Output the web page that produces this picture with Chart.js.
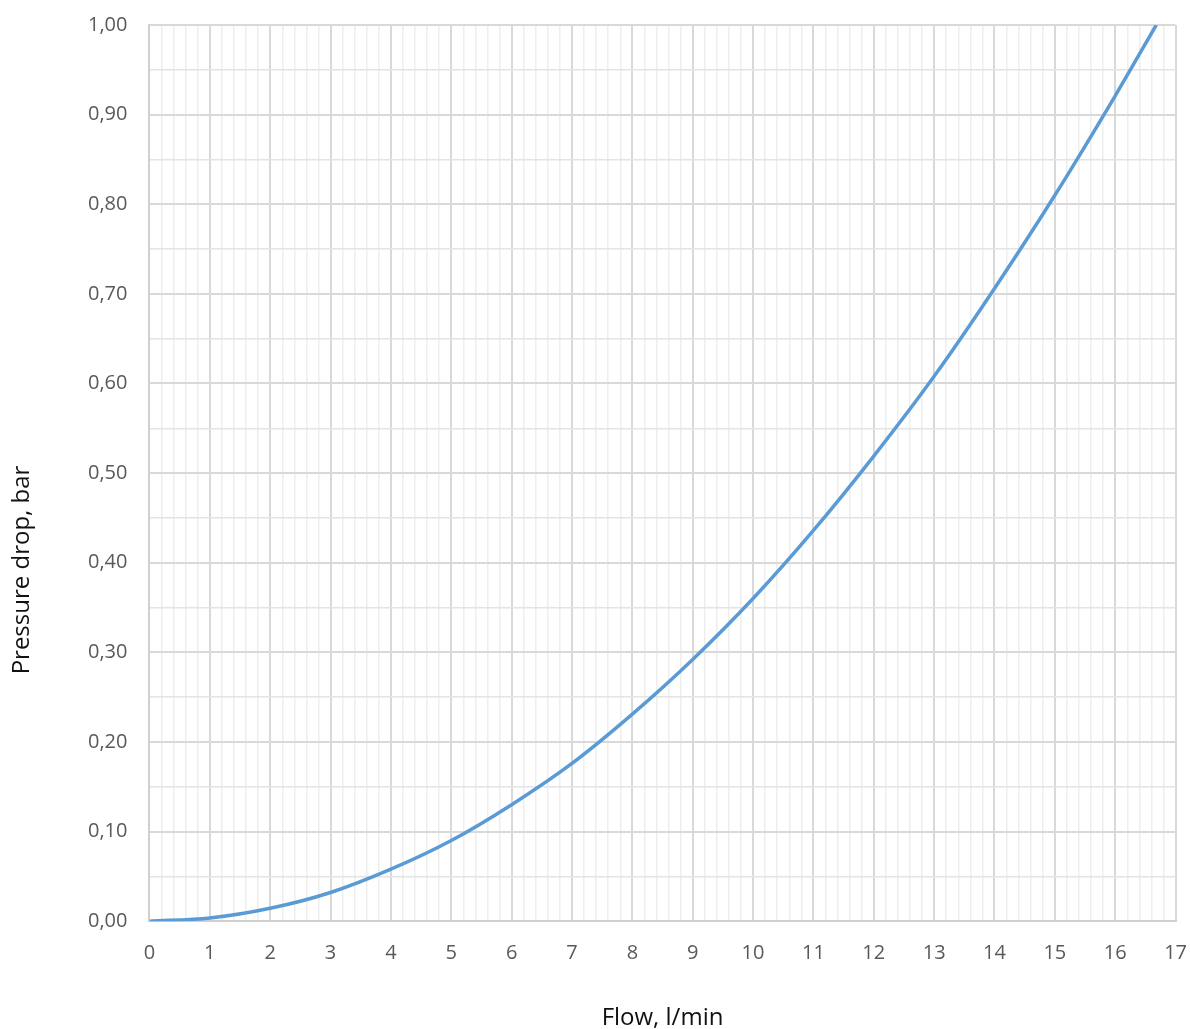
<!DOCTYPE html>
<html>
<head>
<meta charset="utf-8">
<script src="https://cdn.jsdelivr.net/npm/chart.js@4/dist/chart.umd.min.js"></script>
<style>
  html, body { margin: 0; padding: 0; background: #fff; }
  #wrap { width: 1190px; height: 1029px; }
</style>
</head>
<body>
<div id="wrap"><canvas id="flowChart" width="1190" height="1029"></canvas></div>
<script>
// flow (l/min) vs pressure drop (bar)
const flowValues = [0, 1, 2, 3, 4, 5, 6, 7, 8, 9, 10, 11, 12, 13, 14, 15, 16, 16.68];
const dropValues = [0, 0.0036, 0.0144, 0.032, 0.058, 0.09, 0.13, 0.176, 0.231, 0.292, 0.36, 0.436, 0.519, 0.608, 0.706, 0.81, 0.921, 1.0];

const xMin = 0, xMax = 17, xMinorStep = 0.2;
const yMin = 0, yMax = 1, yMinorStep = 0.05;

const xTitle = 'Flow, l/min';
const yTitle = 'Pressure drop, bar';

const FONT = '"Open Sans", Calibri, sans-serif';

function isMajor(v, step) {
    const r = v / step;
    return Math.abs(r - Math.round(r)) < 1e-6;
}

// y title sits lower than the plot centre in the original, so draw it by hand
const yTitlePlugin = {
    id: 'yTitle',
    afterDraw(chart) {
        const c = chart.ctx;
        c.save();
        c.translate(22, 570);
        c.rotate(-Math.PI / 2);
        c.font = '24px ' + FONT;
        c.fillStyle = '#111';
        c.textAlign = 'center';
        c.textBaseline = 'middle';
        c.fillText(yTitle, 0, 0);
        c.restore();
    }
};

const points = flowValues.map((x, i) => ({ x: x, y: dropValues[i] }));

const ctx = document.getElementById('flowChart');
const flowChart = new Chart(ctx.getContext('2d'), {
    type: 'line',
    data: {
        datasets: [{
            data: points,
            borderColor: '#5b9bd5',
            borderWidth: 3.5,
            pointRadius: 0,
            fill: false,
            cubicInterpolationMode: 'monotone'
        }]
    },
    plugins: [yTitlePlugin],
    options: {
        responsive: false,
        animation: false,
        layout: { padding: { top: 25, right: 0, left: 85, bottom: 0 } },
        plugins: {
            legend: { display: false },
            tooltip: { enabled: false }
        },
        scales: {
            x: {
                type: 'linear',
                min: xMin,
                max: xMax,
                border: { color: '#d0d0d0', width: 2 },
                grid: {
                    tickLength: 17,
                    tickColor: 'rgba(0,0,0,0)',
                    color: c => isMajor(c.tick.value, 1) ? '#d9d9d9' : '#eeeeee',
                    lineWidth: c => isMajor(c.tick.value, 1) ? 2 : 1.5
                },
                ticks: {
                    stepSize: xMinorStep,
                    autoSkip: false,
                    maxRotation: 0,
                    padding: 3,
                    color: '#595959',
                    font: { family: FONT, size: 20 },
                    callback: v => isMajor(v, 1) ? String(Math.round(v)) : ''
                },
                title: {
                    display: true,
                    text: xTitle,
                    color: '#111',
                    padding: { top: 36, bottom: -4 },
                    font: { family: FONT, size: 24 }
                }
            },
            y: {
                type: 'linear',
                min: yMin,
                max: yMax,
                border: { color: '#d0d0d0', width: 2 },
                grid: {
                    tickLength: 19,
                    tickColor: 'rgba(0,0,0,0)',
                    color: c => isMajor(c.tick.value, 0.1) ? '#d9d9d9' : '#e4e4e4',
                    lineWidth: c => isMajor(c.tick.value, 0.1) ? 2 : 1.5
                },
                ticks: {
                    stepSize: yMinorStep,
                    autoSkip: false,
                    padding: 3,
                    color: '#595959',
                    font: { family: FONT, size: 20 },
                    callback: v => isMajor(v, 0.1) ? v.toFixed(2).replace('.', ',') : ''
                },
                title: { display: false }
            }
        }
    }
});
</script>
</body>
</html>
